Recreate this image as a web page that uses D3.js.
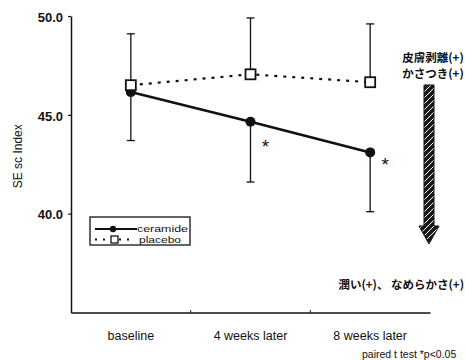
<!DOCTYPE html>
<html><head><meta charset="utf-8">
<script src="https://cdn.jsdelivr.net/npm/d3@7"></script>
<style>
body{margin:0;background:#fff;}
text{font-family:"Liberation Sans",Arial,sans-serif;fill:#111;}
</style></head>
<body>
<svg id="c" width="465" height="360"></svg>
<script>
const categories = ["baseline", "4 weeks later", "8 weeks later"];
const ceramide = [46.15, 44.65, 43.1];
const ceramideLow = [43.7, 41.6, 40.1];
const placebo = [46.5, 47.05, 46.65];
const placeboHigh = [49.1, 49.9, 49.6];
const yTicks = [40, 45, 50];
const yTickLabels = ["40.0", "45.0", "50.0"];
const sigFlags = [false, true, true];

(function () {
const svg = d3.select("#c");
const pLeft = 71, pRight = 430, pTop = 16, pBottom = 312.5;
const x = d3.scaleBand().domain(categories).range([pLeft, pRight]);
const cx = c => x(c) + x.bandwidth() / 2;
const y = d3.scaleLinear().domain([35, 50]).range([pBottom, pTop]);

// axes
const yAxis = svg.append("g").attr("transform", `translate(${pLeft},0)`)
  .call(d3.axisLeft(y).tickValues(yTicks).tickFormat((d, i) => yTickLabels[i]).tickSize(3).tickSizeOuter(0));
yAxis.select(".domain").attr("stroke", "#111").attr("stroke-width", 1.5);
yAxis.selectAll(".tick line").attr("stroke", "#111").attr("stroke-width", 1.2);
yAxis.selectAll(".tick text").attr("x", -8).attr("dy", "0.4em").style("font-size", "13px").style("font-weight", "bold").attr("fill", "#222");

const xAxis = svg.append("g").attr("transform", `translate(0,${pBottom})`)
  .call(d3.axisBottom(x).tickSize(0).tickSizeOuter(0));
xAxis.select(".domain").attr("stroke", "#111").attr("stroke-width", 1.5);
xAxis.selectAll(".tick text").attr("y", 27).attr("dy", 0).style("font-size", "12.5px").attr("fill", "#222");
xAxis.selectAll(".bmark").data(categories.slice(1)).join("line")
  .attr("x1", d => x(d)).attr("x2", d => x(d)).attr("y1", 0).attr("y2", -2.5)
  .attr("stroke", "#111").attr("stroke-width", 1);

svg.append("text").attr("transform", `translate(22,${(pTop + pBottom) / 2 - 8}) rotate(-90)`)
  .attr("text-anchor", "middle").style("font-size", "12px").text("SE sc Index");

// error bars
const capW = 4;
function errBars(vals, ends) {
  const g = svg.append("g").attr("stroke", "#111").attr("stroke-width", 1.3);
  categories.forEach((c, i) => {
    g.append("line").attr("x1", cx(c)).attr("x2", cx(c)).attr("y1", y(vals[i])).attr("y2", y(ends[i]));
    g.append("line").attr("x1", cx(c) - capW).attr("x2", cx(c) + capW).attr("y1", y(ends[i])).attr("y2", y(ends[i]));
  });
}
errBars(placebo, placeboHigh);
errBars(ceramide, ceramideLow);

// lines
const line = d3.line().x((d, i) => cx(categories[i])).y(d => y(d));
svg.append("path").datum(placebo).attr("d", line).attr("fill", "none")
  .attr("stroke", "#111").attr("stroke-width", 2.2).attr("stroke-dasharray", "3,6");
svg.append("path").datum(ceramide).attr("d", line).attr("fill", "none")
  .attr("stroke", "#111").attr("stroke-width", 2.6);

// markers
svg.append("g").selectAll("circle").data(ceramide).join("circle")
  .attr("cx", (d, i) => cx(categories[i])).attr("cy", d => y(d)).attr("r", 5).attr("fill", "#111");
svg.append("g").selectAll("rect").data(placebo).join("rect")
  .attr("x", (d, i) => cx(categories[i]) - 5).attr("y", d => y(d) - 5)
  .attr("width", 10).attr("height", 10).attr("fill", "#fff").attr("stroke", "#111").attr("stroke-width", 1.8);

// significance asterisks
const starDy = [0, 31, 19];
const sig = ceramide.map((v, i) => ({ v, i })).filter(d => sigFlags[d.i]);
svg.append("g").selectAll("text").data(sig).join("text")
  .attr("x", d => cx(categories[d.i]) + 15).attr("y", d => y(d.v) + starDy[d.i])
  .attr("text-anchor", "middle").style("font-size", "19px").text("*");

// legend
const lg = svg.append("g");
lg.append("rect").attr("x", 90).attr("y", 217).attr("width", 100).attr("height", 28)
  .attr("fill", "#fff").attr("stroke", "#111").attr("stroke-width", 1.3);
lg.append("line").attr("x1", 95).attr("x2", 137).attr("y1", 229).attr("y2", 229).attr("stroke", "#111").attr("stroke-width", 2);
lg.append("circle").attr("cx", 113).attr("cy", 229).attr("r", 3.2).attr("fill", "#111");
lg.append("text").attr("x", 137).attr("y", 232).attr("textLength", 51).attr("lengthAdjust", "spacingAndGlyphs")
  .style("font-size", "9.5px").text("ceramide");
lg.append("line").attr("x1", 95).attr("x2", 134).attr("y1", 239.5).attr("y2", 239.5).attr("stroke", "#111")
  .attr("stroke-width", 2).attr("stroke-dasharray", "2,6");
lg.append("rect").attr("x", 111).attr("y", 236).attr("width", 7).attr("height", 7).attr("fill", "#fff").attr("stroke", "#111").attr("stroke-width", 1.3);
lg.append("text").attr("x", 139).attr("y", 243).attr("textLength", 42).attr("lengthAdjust", "spacingAndGlyphs")
  .style("font-size", "9.5px").text("placebo");

// annotation arrow
const defs = svg.append("defs");
const pat = defs.append("pattern").attr("id", "hatch").attr("patternUnits", "userSpaceOnUse")
  .attr("width", 6).attr("height", 6);
pat.append("rect").attr("width", 6).attr("height", 6).attr("fill", "#1a1a1a");
pat.append("path").attr("d", "M0,6 L6,0").attr("stroke", "#fff").attr("stroke-width", 1);
const ax = 429, aTop = 85, shaftEnd = 226, aTip = 244;
svg.append("path")
  .attr("d", `M${ax - 5},${aTop} L${ax + 5},${aTop} L${ax + 5},${shaftEnd} L${ax + 10},${shaftEnd} L${ax},${aTip} L${ax - 10},${shaftEnd} L${ax - 5},${shaftEnd} Z`)
  .attr("fill", "url(#hatch)").attr("stroke", "#111").attr("stroke-width", 1);

const jp = "'Noto Sans CJK JP',sans-serif";
svg.append("text").attr("x", 433).attr("y", 62).attr("text-anchor", "middle")
  .style("font-size", "11.5px").style("font-weight", "bold").style("font-family", jp).text("皮膚剥離(+)");
svg.append("text").attr("x", 433).attr("y", 78).attr("text-anchor", "middle")
  .style("font-size", "11.5px").style("font-weight", "bold").style("font-family", jp).text("かさつき(+)");
svg.append("text").attr("x", 464).attr("y", 289).attr("text-anchor", "end")
  .style("font-size", "11.5px").style("font-weight", "bold").style("font-family", jp).text("潤い(+)、 なめらかさ(+)");
svg.append("text").attr("x", 362).attr("y", 358).style("font-size", "10.5px").text("paired t test *p<0.05");
})();
</script>
</body></html>
